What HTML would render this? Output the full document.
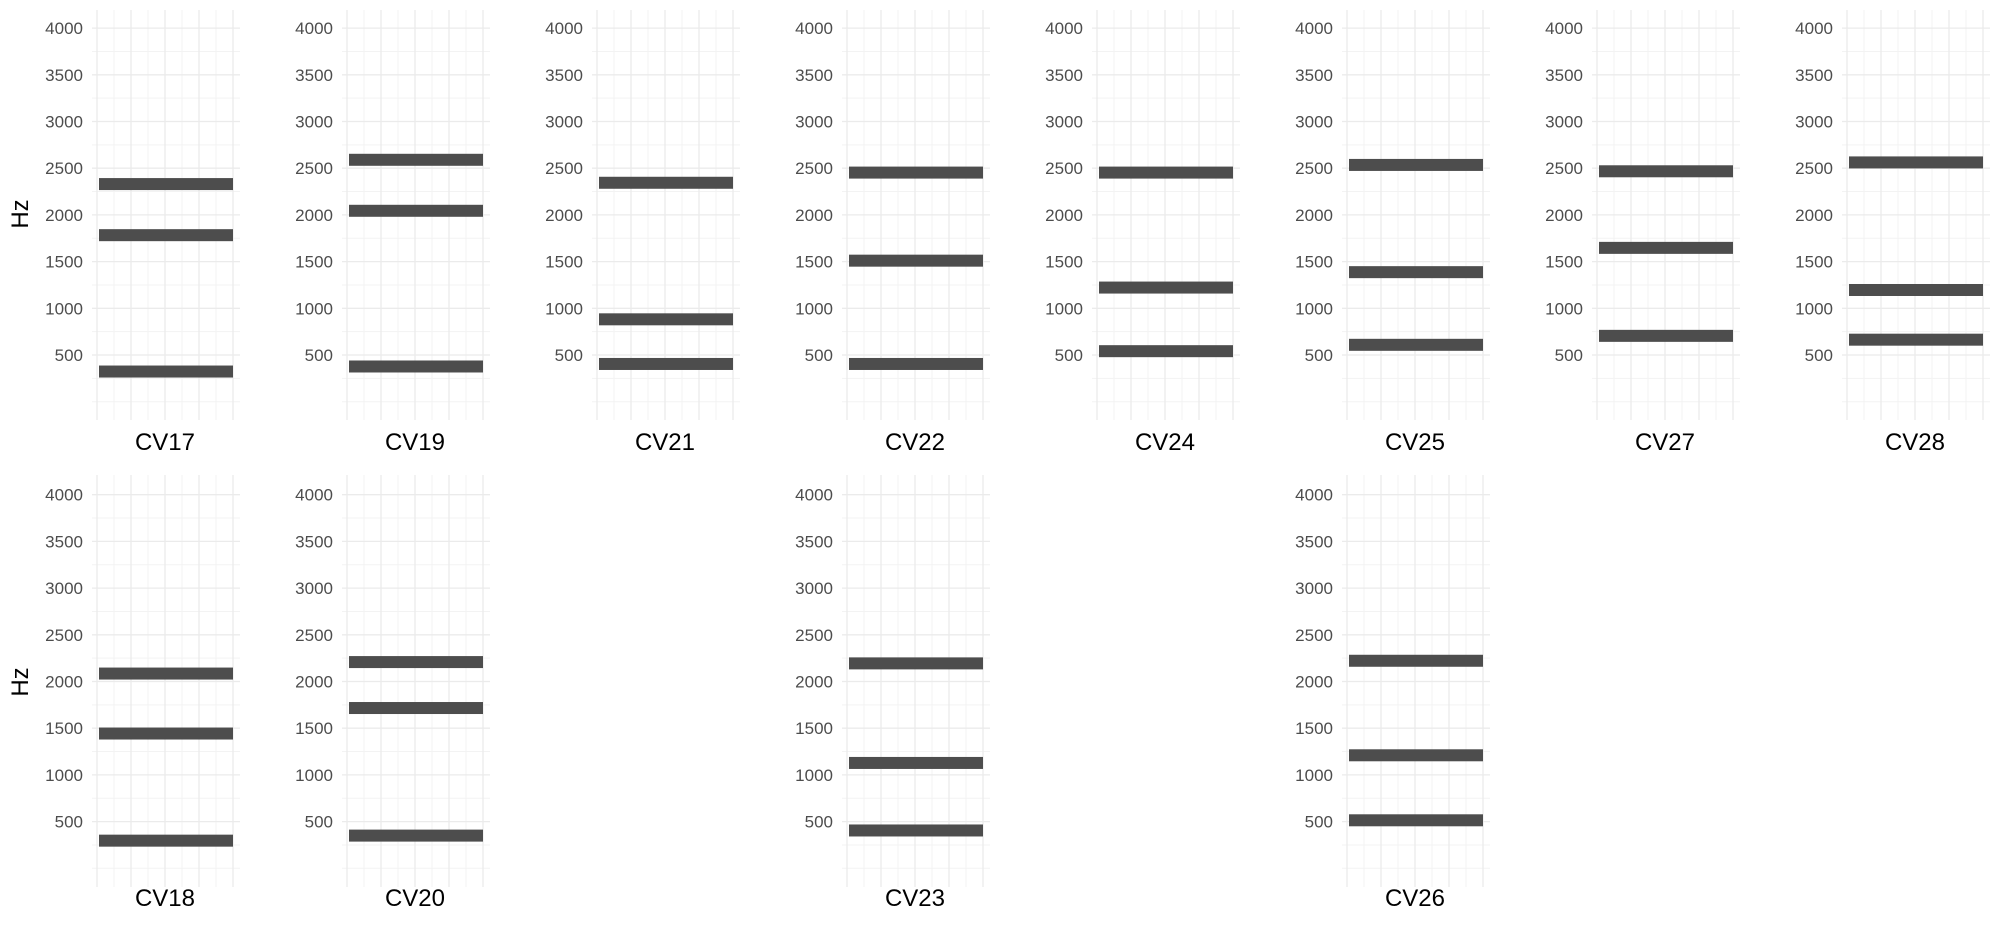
<!DOCTYPE html>
<html><head><meta charset="utf-8"><style>
html,body{margin:0;padding:0;background:#fff;}
svg{display:block;font-family:"Liberation Sans",sans-serif;}
</style></head><body>
<svg id="chart" width="2000" height="933"></svg>
<script>
const panels = ["CV17","CV19","CV21","CV22","CV24","CV25","CV27","CV28","CV18","CV20","CV23","CV26"];
const panelRow = [0,0,0,0,0,0,0,0,1,1,1,1];
const panelCol = [0,1,2,3,4,5,6,7,0,1,3,5];
const f1 = [323,377,404,404,541,609,705,664,296,350,405,514];
const f2 = [1783,2044,882,1510,1222,1387,1647,1196,1443,1716,1128,1210];
const f3 = [2330,2590,2344,2453,2453,2535,2467,2562,2085,2208,2194,2222];
const yTicks = [500,1000,1500,2000,2500,3000,3500,4000];
const yMinor = [0,250,750,1250,1750,2250,2750,3250,3750];

const NS="http://www.w3.org/2000/svg";
const svg=document.getElementById('chart');
function mk(t,a,p){const e=document.createElementNS(NS,t);for(const k in a)e.setAttribute(k,a[k]);(p||svg).appendChild(e);return e;}
const rowY0=[401.7,868.3];
const pxPer=46.7/500;
const rowTop=[10,475], rowBot=[420,887];
function yScale(r,v){return rowY0[r]-v*pxPer;}
const colX=c=>97+250*c;

panels.forEach((name,i)=>{
  const r=panelRow[i], c=panelCol[i], x0=colX(c);
  const g=mk('g',{});
  
  
  yMinor.forEach(v=>{const y=yScale(r,v);mk('line',{x1:x0-5,x2:x0+143,y1:y,y2:y,stroke:'#f3f3f3','stroke-width':1},g);});
  for(let k=0;k<9;k++){const x=x0+k*17;mk('line',{x1:x,x2:x,y1:rowTop[r],y2:rowBot[r],stroke:k%2?'#f3f3f3':'#ebebeb','stroke-width':k%2?1:1.3},g);}
  yTicks.forEach(v=>{const y=yScale(r,v);mk('line',{x1:x0-5,x2:x0+143,y1:y,y2:y,stroke:'#ebebeb','stroke-width':1.3},g);
    const t=mk('text',{x:x0-14,y:y+6,'text-anchor':'end','font-size':17,fill:'#4d4d4d'},g);t.textContent=v;
    
    });
  [f1[i],f2[i],f3[i]].forEach((v,j)=>{
    const b=mk('rect',{x:x0+2,width:134,y:yScale(r,v)-6,height:12,fill:'#4d4d4d'},g);
    
    
  });
  const lab=mk('text',{x:x0+68,y:r?906:450,'text-anchor':'middle','font-size':24,fill:'#000'},g);
  lab.textContent=name;
  
  
});
[0,1].forEach(r=>{
  const t=mk('text',{x:0,y:0,transform:`translate(28,${r?682:214}) rotate(-90)`,'text-anchor':'middle','font-size':24,fill:'#000'});
  t.textContent='Hz';
  
  
});
</script>
</body></html>
